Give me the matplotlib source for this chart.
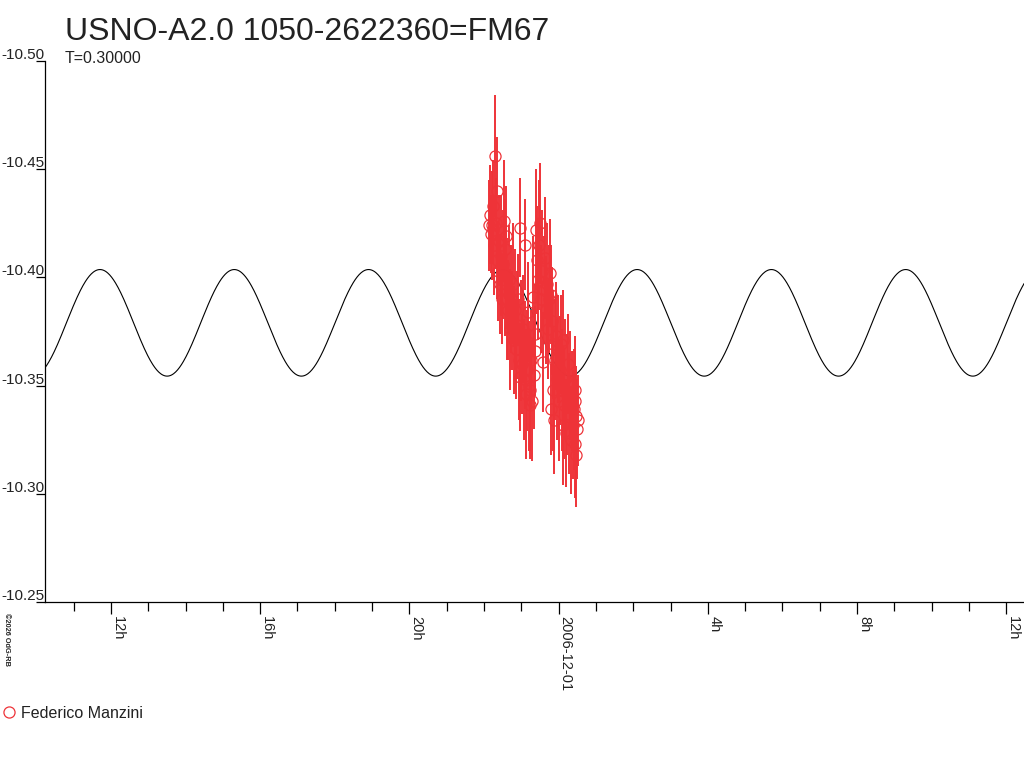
import numpy as np
import matplotlib
matplotlib.use("Agg")
import matplotlib.pyplot as plt
import matplotlib.transforms as mtransforms
from matplotlib.lines import Line2D
from matplotlib.ticker import MultipleLocator, FixedLocator

plt.rcParams['font.family'] = ['Liberation Sans', 'DejaVu Sans']

# ---------------- data ----------------
# time in hours since 2006-11-30 00:00 UT
times = [22.134, 22.161, 22.188, 22.214, 22.241, 22.247, 22.268, 22.295, 22.322, 22.349,
         22.355, 22.375, 22.402, 22.429, 22.456, 22.483, 22.509, 22.536, 22.563, 22.569,
         22.590, 22.596, 22.617, 22.643, 22.670, 22.697, 22.724, 22.751, 22.777, 22.804,
         22.831, 22.858, 22.885, 22.912, 22.938, 22.965, 22.971, 22.992, 23.019, 23.046,
         23.072, 23.099, 23.105, 23.126, 23.153, 23.180, 23.206, 23.233, 23.239, 23.260,
         23.287, 23.314, 23.340, 23.367, 23.373,
         23.394, 23.421, 23.448, 23.475, 23.501, 23.528, 23.555, 23.582, 23.609, 23.635,
         23.662, 23.689, 23.716, 23.742, 23.769, 23.796, 23.802, 23.823, 23.850, 23.856,
         23.877, 23.903, 23.930, 23.957, 23.984, 24.011, 24.038, 24.064, 24.091, 24.118,
         24.124, 24.145, 24.172, 24.198, 24.225, 24.252, 24.279, 24.306, 24.333, 24.359,
         24.386, 24.413, 24.440, 24.446, 24.452, 24.467, 24.473, 24.494, 24.520]
mags = [-10.424, -10.429, -10.420, -10.424, -10.433, -10.422, -10.415, -10.456, -10.425, -10.440,
        -10.408, -10.403, -10.417, -10.397, -10.410, -10.390, -10.406, -10.426, -10.413, -10.394,
        -10.401, -10.419, -10.390, -10.385, -10.399, -10.376, -10.390, -10.380, -10.397, -10.371,
        -10.385, -10.367, -10.378, -10.390, -10.362, -10.423, -10.354, -10.371, -10.360, -10.376,
        -10.353, -10.415, -10.364, -10.346, -10.357, -10.384, -10.350, -10.348, -10.341, -10.362,
        -10.343, -10.391, -10.355, -10.374, -10.366,
        -10.422, -10.408, -10.399, -10.415, -10.425, -10.390, -10.403, -10.361, -10.394, -10.409,
        -10.385, -10.397, -10.376, -10.390, -10.402, -10.392, -10.339, -10.380, -10.348, -10.369,
        -10.334, -10.362, -10.373, -10.353, -10.367, -10.343, -10.357, -10.369, -10.348, -10.371,
        -10.332, -10.341, -10.353, -10.328, -10.346, -10.360, -10.337, -10.350, -10.325, -10.343,
        -10.332, -10.339, -10.348, -10.343, -10.323, -10.336, -10.318, -10.330, -10.334]
errs = [0.021, 0.023, 0.018, 0.025, 0.021, 0.016, 0.023, 0.028, 0.021, 0.025,
        0.018, 0.023, 0.021, 0.023, 0.028, 0.021, 0.025, 0.028, 0.023, 0.021,
        0.025, 0.023, 0.028, 0.023, 0.025, 0.028, 0.025, 0.023, 0.028, 0.025,
        0.028, 0.023, 0.025, 0.021, 0.028, 0.023, 0.025, 0.028, 0.023, 0.025,
        0.028, 0.021, 0.025, 0.030, 0.028, 0.023, 0.030, 0.028, 0.025, 0.023,
        0.028, 0.028, 0.025, 0.023, 0.021,
        0.028, 0.025, 0.028, 0.030, 0.028, 0.025, 0.028, 0.023, 0.025, 0.028,
        0.025, 0.028, 0.023, 0.025, 0.025, 0.023, 0.021, 0.025, 0.028, 0.025,
        0.025, 0.028, 0.025, 0.028, 0.025, 0.028, 0.025, 0.023, 0.028, 0.023,
        0.028, 0.025, 0.028, 0.025, 0.028, 0.023, 0.028, 0.025, 0.025, 0.023,
        0.025, 0.028, 0.025, 0.023, 0.025, 0.023, 0.024, 0.023, 0.021]

# sine model (period = T/2 = 0.15 d)
model_period_h = 3.6
model_epoch_h = 11.705
model_mean = -10.379
model_amp = 0.0246

ytick_vals = [-10.50, -10.45, -10.40, -10.35, -10.30, -10.25]
ytick_labels = ['-10.50', '-10.45', '-10.40', '-10.35', '-10.30', '-10.25']
xtick_vals = [12, 16, 20, 24, 28, 32, 36]
xtick_labels = ['12h', '16h', '20h', '2006-12-01', '4h', '8h', '12h']

title = 'USNO-A2.0 1050-2622360=FM67'
subtitle = 'T=0.30000'
observer = 'Federico Manzini'
red = '#EE3338'

# ---------------- figure ----------------
W, H = 1024, 768
fig = plt.figure(figsize=(W / 100, H / 100), dpi=100)
x0, x1 = 45, 1024
y_top, y_bot = 60.7, 602.3
ax = fig.add_axes([x0 / W, 1 - y_bot / H, (x1 - x0) / W, (y_bot - y_top) / H])

xmin = 12 + (x0 - 111) / 37.3
xmax = 12 + (x1 - 111) / 37.3
ax.set_xlim(xmin, xmax)
ax.set_ylim(-10.25, -10.50)

tt = np.linspace(xmin, xmax, 1500)
ax.plot(tt, model_mean - model_amp * np.cos(2 * np.pi * (tt - model_epoch_h) / model_period_h),
        color='black', lw=0.8, zorder=2)

ax.errorbar(times, mags, yerr=errs, fmt='o', mfc='none', mec=red, ecolor=red,
            ms=8, mew=0.9, elinewidth=1.4, capsize=0, zorder=3)

for s in ['top', 'right']:
    ax.spines[s].set_visible(False)
for s in ['left', 'bottom']:
    ax.spines[s].set_linewidth(0.9)

ax.yaxis.set_major_locator(FixedLocator(ytick_vals))
ax.tick_params(axis='y', direction='out', length=6.5, width=0.9, labelleft=False)
blend = mtransforms.blended_transform_factory(ax.transAxes, ax.transData)
for v, lab in zip(ytick_vals, ytick_labels):
    ax.annotate(lab, xy=(0, v), xycoords=blend, xytext=(0, 2), textcoords='offset pixels',
                ha='right', va='baseline', fontsize=11, color='#222222', annotation_clip=False)

ax.set_xticks(xtick_vals)
ax.set_xticklabels(xtick_labels, rotation=-90, ha='left', va='top', fontsize=10.5, color='#222222')
ax.xaxis.set_minor_locator(MultipleLocator(1))
ax.tick_params(axis='x', which='major', direction='out', length=8.6, width=0.9, pad=1)
ax.tick_params(axis='x', which='minor', direction='out', length=6.5, width=0.9)

fig.text(65 / W, 1 - 40 / H, title, fontsize=23, color='#222222', va='baseline', ha='left')
fig.text(65 / W, 1 - 63 / H, subtitle, fontsize=11.5, color='#222222', va='baseline', ha='left')
fig.text(3 / W, 1 - 613 / H, '\u00a92026 OdG-RB', fontsize=5.3, fontweight='bold',
         rotation=-90, ha='left', va='top', color='#222222')

h = Line2D([], [], marker='o', ls='none', mfc='none', mec=red, ms=8, mew=0.9)
fig.legend(handles=[h], labels=[observer], loc='center left', bbox_to_anchor=(0.0, 1 - 713 / H),
           frameon=False, borderaxespad=0, borderpad=0.1, handlelength=0.9, handletextpad=0.3,
           fontsize=11.5, labelcolor='#222222')

fig.savefig('out.png', dpi=100)
